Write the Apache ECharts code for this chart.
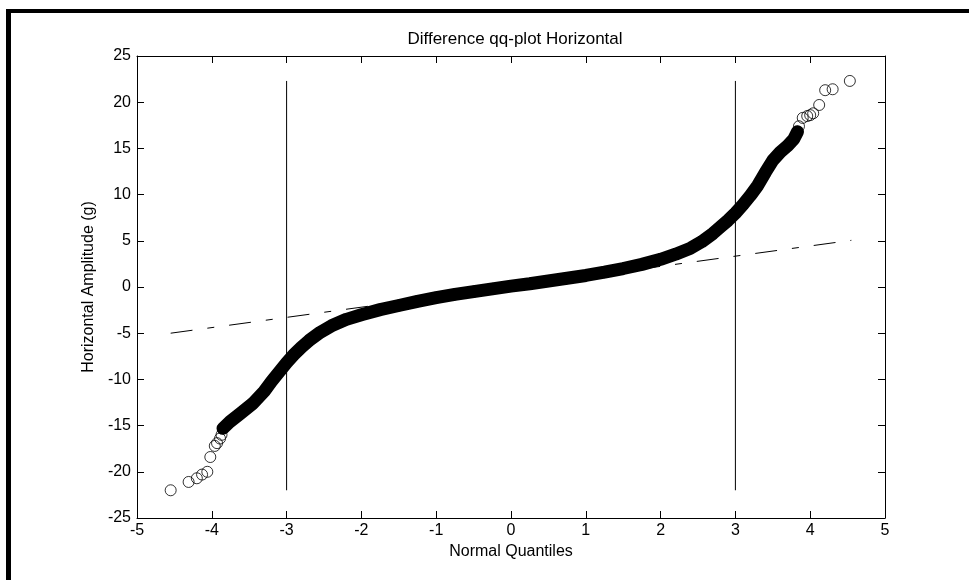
<!DOCTYPE html>
<html>
<head>
<meta charset="utf-8">
<script src="https://cdn.jsdelivr.net/npm/echarts@6/dist/echarts.min.js"></script>
<style>
html,body{margin:0;padding:0;background:#fff;}
#c{width:969px;height:580px;}
</style>
</head>
<body>
<div id="c"></div>
<script>
// Dense part of the qq-plot
var bandX = [-3.85,-3.76,-3.62,-3.45,-3.3,-3.2,-3.1,-3.0,-2.9,-2.8,-2.7,-2.55,-2.4,-2.2,-2.0,-1.75,-1.5,-1.25,-1.0,-0.75,-0.5,-0.25,0,0.25,0.5,0.75,1.0,1.25,1.5,1.75,2.0,2.2,2.4,2.55,2.7,2.8,2.9,3.0,3.1,3.2,3.3,3.4,3.5,3.6,3.7,3.78,3.83];
var bandY = [-15.3,-14.6,-13.7,-12.6,-11.3,-10.2,-9.2,-8.2,-7.3,-6.5,-5.8,-4.9,-4.2,-3.5,-3.0,-2.45,-2.0,-1.55,-1.15,-0.8,-0.5,-0.2,0.1,0.35,0.65,0.95,1.25,1.6,2.0,2.45,3.0,3.55,4.2,4.9,5.8,6.5,7.2,8.0,8.9,9.9,11.0,12.4,13.7,14.6,15.3,16.0,16.8];
// Individual tail points
var lowTailX = [-4.55,-4.31,-4.20,-4.13,-4.06,-4.02,-3.96,-3.93,-3.89,-3.87];
var lowTailY = [-22.0,-21.1,-20.7,-20.3,-20.0,-18.4,-17.2,-16.9,-16.4,-16.0];
var highTailX = [3.85,3.90,3.96,4.00,4.04,4.12,4.20,4.30,4.53];
var highTailY = [17.4,18.3,18.5,18.6,18.8,19.7,21.3,21.4,22.3];
// Reference line (dash-dot) end points
var fitX = [-4.55, 4.55];
var fitY = [-5.0, 5.05];
// Vertical markers
var markX = [-3, 3];
var markY = [-22.0, 22.3];
var xTicks = {min:-5, max:5, step:1};
var yTicks = {min:-25, max:25, step:5};

function pairs(xs, ys){ return xs.map(function(x,i){ return [x, ys[i]]; }); }
var bandPts = pairs(bandX, bandY);
var tailPts = pairs(lowTailX, lowTailY).concat(pairs(highTailX, highTailY));

var FONT = 'Liberation Sans, Arial, sans-serif';
var chart = echarts.init(document.getElementById('c'), null, {renderer:'canvas'});
var axisCommon = {
  axisLine:{show:true, onZero:false, lineStyle:{color:'#000', width:1}},
  axisTick:{show:true, inside:true, length:7, lineStyle:{color:'#000'}},
  splitLine:{show:false}
};
chart.setOption({
  animation:false,
  backgroundColor:'#fff',
  title:{text:'Difference qq-plot Horizontal', left:510, top:26, textAlign:'center',
    textStyle:{fontFamily:FONT, fontSize:17, fontWeight:'normal', color:'#000'}},
  grid:{left:137, right:84, top:56, bottom:62, containLabel:false},
  graphic:[
    {type:'rect', shape:{x:6, y:9, width:963, height:4}, style:{fill:'#000'}},
    {type:'rect', shape:{x:6, y:9, width:5, height:571}, style:{fill:'#000'}}
  ],
  xAxis:[
    Object.assign({type:'value', position:'bottom', min:xTicks.min, max:xTicks.max, interval:xTicks.step,
      name:'Normal Quantiles', nameLocation:'middle', nameGap:26,
      nameTextStyle:{fontFamily:FONT, fontSize:16, color:'#000'},
      axisLabel:{fontFamily:FONT, fontSize:16, color:'#000', margin:5}}, axisCommon),
    Object.assign({type:'value', position:'top', min:xTicks.min, max:xTicks.max, interval:xTicks.step,
      axisLabel:{show:false}}, axisCommon)
  ],
  yAxis:[
    Object.assign({type:'value', position:'left', min:yTicks.min, max:yTicks.max, interval:yTicks.step,
      name:'Horizontal Amplitude (g)', nameLocation:'middle', nameGap:40,
      nameTextStyle:{fontFamily:FONT, fontSize:16, color:'#000'},
      axisLabel:{fontFamily:FONT, fontSize:16, color:'#000', margin:6}}, axisCommon),
    Object.assign({type:'value', position:'right', min:yTicks.min, max:yTicks.max, interval:yTicks.step,
      axisLabel:{show:false}}, axisCommon)
  ],
  series:[
    {type:'line', data:pairs(fitX, fitY), showSymbol:false, z:1,
      lineStyle:{color:'#000', width:1, type:[22,15,7,15]}},
    {type:'line', data:pairs([markX[0],markX[0]], markY), showSymbol:false, z:1,
      lineStyle:{color:'#000', width:1}},
    {type:'line', data:pairs([markX[1],markX[1]], markY), showSymbol:false, z:1,
      lineStyle:{color:'#000', width:1}},
    {type:'line', data:bandPts, showSymbol:false, z:2,
      lineStyle:{color:'#000', width:13, cap:'round', join:'round'}},
    {type:'scatter', data:bandPts.concat(tailPts), symbol:'circle', symbolSize:11, z:3,
      itemStyle:{color:'rgba(0,0,0,0)', borderColor:'#000', borderWidth:1}}
  ]
});
</script>
</body>
</html>
